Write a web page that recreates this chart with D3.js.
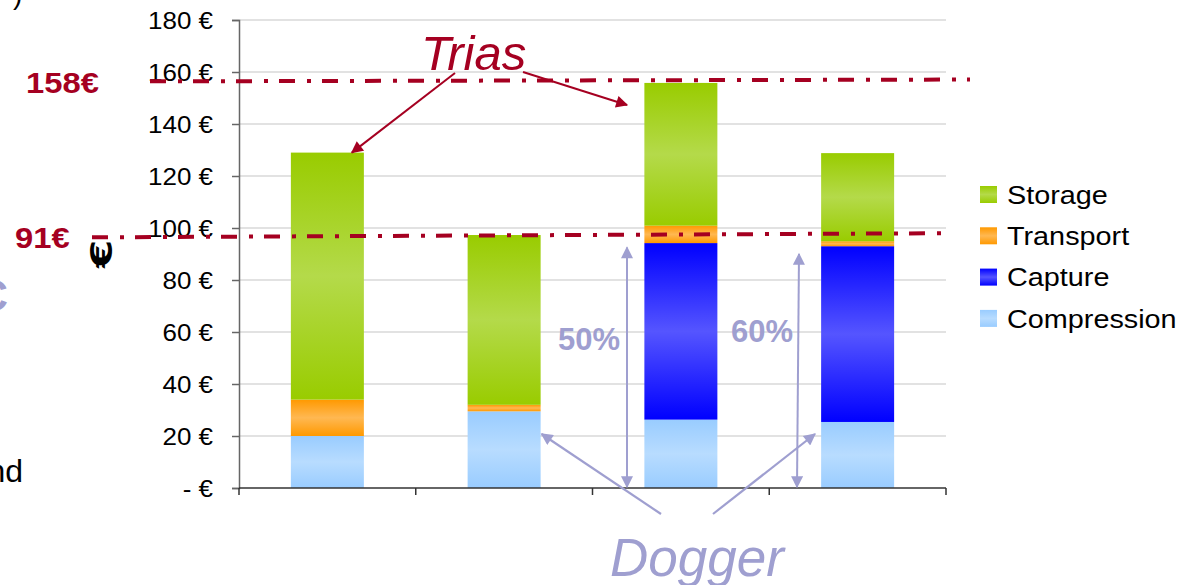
<!DOCTYPE html>
<html>
<head>
<meta charset="utf-8">
<title>CO2 chain cost</title>
<script src="https://cdn.jsdelivr.net/npm/d3@7"></script>
<style>
  body { margin: 0; background: #fff; }
  svg { font-family: "Liberation Sans", Arial, sans-serif; display: block; }
</style>
</head>
<body>
<div id="chart"></div>
<script>
// data (EUR per tonne)
const categories = ["Trias 1", "Dogger 1", "Trias 2", "Dogger 2"];
const compression = [20.0, 29.5, 26.3, 25.4];
const capture = [0, 0, 67.9, 67.6];
const transport = [14.0, 2.5, 6.7, 1.9];
const storage = [95.0, 65.3, 54.9, 33.9];
const seriesKeys = ["Compression", "Capture", "Transport", "Storage"];
const legendKeys = ["Storage", "Transport", "Capture", "Compression"];
const yTicks = [0, 20, 40, 60, 80, 100, 120, 140, 160, 180];
// reference levels: [label, value at left end, value at right end]
const refLines = [["158€", 156.4, 157.1], ["91€", 96.4, 98.0]];
const shares = ["50%", "60%"];

const width = 1196, height = 585;
const sx = 1.13; // the source picture is stretched horizontally

const svg = d3.select("#chart").append("svg")
  .attr("width", width).attr("height", height);

const x = d3.scaleBand().domain(categories).range([239, 946])
  .paddingInner(0.587).paddingOuter(0.2935);
const y = d3.scaleLinear().domain([0, 180]).range([488, 20]);

// gradients
const grads = {
  Storage: ["#99cc00", "#b4da4a", "#99cc00"],
  Transport: ["#ff9900", "#ffb852", "#ff9900"],
  Capture: ["#0000ff", "#5555ff", "#0000ff"],
  Compression: ["#99ccff", "#b8dcff", "#99ccff"]
};
const defs = svg.append("defs");
Object.keys(grads).forEach(k => {
  const g = defs.append("linearGradient").attr("id", "g" + k)
    .attr("x1", 0).attr("y1", 0).attr("x2", 0).attr("y2", 1);
  grads[k].forEach((c, i) => g.append("stop").attr("offset", i / 2).attr("stop-color", c));
});
function marker(id, color) {
  defs.append("marker").attr("id", id)
    .attr("viewBox", "0 0 10 10").attr("refX", 9).attr("refY", 5)
    .attr("markerWidth", 15).attr("markerHeight", 12)
    .attr("markerUnits", "userSpaceOnUse").attr("orient", "auto-start-reverse")
    .append("path").attr("d", "M0,0L10,5L0,10Z").attr("fill", color);
}
const red = "#a50021", lav = "#9f9fd0";
marker("arRed", red);
marker("arLav", lav);

// gridlines
svg.append("g").selectAll("line").data(yTicks.slice(1)).join("line")
  .attr("x1", 239).attr("x2", 946)
  .attr("y1", d => y(d)).attr("y2", d => y(d))
  .attr("stroke", "#c6c6c6").attr("stroke-width", 1.2);

// stacked bars
const table = categories.map((c, i) => ({
  cat: c, Compression: compression[i], Capture: capture[i],
  Transport: transport[i], Storage: storage[i]
}));
const stacked = d3.stack().keys(seriesKeys)(table);
svg.append("g").selectAll("g").data(stacked).join("g")
  .attr("fill", d => "url(#g" + d.key + ")")
  .selectAll("rect").data(d => d.filter(p => p[1] - p[0] > 0)).join("rect")
  .attr("x", d => x(d.data.cat))
  .attr("width", x.bandwidth())
  .attr("y", d => y(d[1]))
  .attr("height", d => y(d[0]) - y(d[1]));

// y axis
const yAxis = svg.append("g").attr("transform", "translate(239,0)")
  .call(d3.axisLeft(y).tickValues(yTicks).tickSize(7)
    .tickFormat(d => d === 0 ? "- €" : d + " €"));
yAxis.select(".domain").attr("stroke", "#666").attr("stroke-width", 1.5);
yAxis.selectAll(".tick line").attr("stroke", "#666").attr("stroke-width", 1.5);
yAxis.selectAll(".tick text")
  .attr("x", 0).attr("dy", "0.36em")
  .attr("transform", `translate(-26,0) scale(${sx},1)`)
  .attr("font-size", 23).attr("fill", "#000")
  .attr("font-family", "'Liberation Sans', Arial, sans-serif");

// x axis: line and category separators
const x0 = x.range()[0], step = x.step();
svg.append("line").attr("x1", x0).attr("x2", x.range()[1])
  .attr("y1", y(0)).attr("y2", y(0)).attr("stroke", "#333").attr("stroke-width", 1.5);
svg.append("g").selectAll("line").data(d3.range(categories.length + 1)).join("line")
  .attr("x1", i => x0 + i * step).attr("x2", i => x0 + i * step)
  .attr("y1", y(0)).attr("y2", y(0) + 7)
  .attr("stroke", "#333").attr("stroke-width", 1.5);

// y title (rotated euro sign)
svg.append("text").attr("transform", "translate(112,254) rotate(-90) scale(1.35,1)")
  .attr("text-anchor", "middle").attr("font-size", 30).attr("font-weight", "bold")
  .attr("font-family", "'DejaVu Sans', sans-serif")
  .text("€");

// reference dash-dot lines
const refX = [[150, 970], [92, 945]];
const labelPos = [[26, 93], [15, 248]];
refLines.forEach((r, i) => {
  svg.append("line")
    .attr("x1", refX[i][0]).attr("x2", refX[i][1])
    .attr("y1", y(r[1])).attr("y2", y(r[2]))
    .attr("stroke", red).attr("stroke-width", 4)
    .attr("stroke-dasharray", "16,12,4,11");
  svg.append("text")
    .attr("transform", `translate(${labelPos[i][0]},${labelPos[i][1]}) scale(${sx},1)`)
    .attr("font-size", 29).attr("font-weight", "bold").attr("fill", red)
    .text(r[0]);
});

// legend
const leg = svg.append("g").selectAll("g").data(legendKeys).join("g")
  .attr("transform", (d, i) => `translate(980,${186 + i * 41.3})`);
leg.append("rect").attr("width", 17).attr("height", 17)
  .attr("fill", d => "url(#g" + d + ")");
leg.append("text")
  .attr("transform", `translate(27,8.5) scale(${sx},1)`)
  .attr("dy", "0.36em").attr("font-size", 25.5).text(d => d);

// Trias annotation
svg.append("text").attr("x", 421).attr("y", 70)
  .attr("font-size", 49).attr("font-style", "italic").attr("fill", red)
  .text("Trias");
const triasArrows = [
  [455, 73, x(categories[0]) + x.bandwidth() - 12, y(129)],
  [523, 72, 627, 105]
];
svg.append("g").selectAll("line").data(triasArrows).join("line")
  .attr("x1", d => d[0]).attr("y1", d => d[1])
  .attr("x2", d => d[2]).attr("y2", d => d[3])
  .attr("stroke", red).attr("stroke-width", 2)
  .attr("marker-end", "url(#arRed)");

// Dogger annotation
svg.append("text").attr("x", 610).attr("y", 576)
  .attr("font-size", 53).attr("font-style", "italic").attr("fill", lav)
  .text("Dogger");
const doggerArrows = [
  [661, 514, x(categories[1]) + x.bandwidth() + 1, 434],
  [713, 514, 815, 434]
];
svg.append("g").selectAll("line").data(doggerArrows).join("line")
  .attr("x1", d => d[0]).attr("y1", d => d[1])
  .attr("x2", d => d[2]).attr("y2", d => d[3])
  .attr("stroke", lav).attr("stroke-width", 2.2)
  .attr("marker-end", "url(#arLav)");

// share double arrows
const shareArrows = [[627, 627, 92.5, 558, 350], [797, 799, 90, 731, 342]];
shareArrows.forEach((s, i) => {
  svg.append("line")
    .attr("x1", s[0]).attr("y1", y(0) - 1)
    .attr("x2", s[1]).attr("y2", y(s[2]))
    .attr("stroke", lav).attr("stroke-width", 2)
    .attr("marker-start", "url(#arLav)").attr("marker-end", "url(#arLav)");
  svg.append("text").attr("x", s[3]).attr("y", s[4])
    .attr("font-size", 31).attr("font-weight", "bold").attr("fill", lav)
    .text(shares[i]);
});

// fragments of surrounding slide text
svg.append("text").attr("x", 13).attr("y", 4).attr("font-size", 28).text(")");
svg.append("text").attr("x", 8).attr("y", 311).attr("text-anchor", "end")
  .attr("font-size", 44).attr("font-weight", "bold").attr("fill", lav).text("C");
svg.append("text").attr("x", 23).attr("y", 482).attr("text-anchor", "end")
  .attr("font-size", 32).text("nd");
</script>
</body>
</html>
